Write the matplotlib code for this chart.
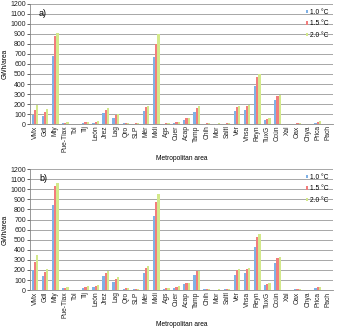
import matplotlib.pyplot as plt
import numpy as np

plt.rcParams['font.family'] = ['Liberation Sans', 'DejaVu Sans']

areas = ["VMx", "Gdl", "Mty", "Pue-Tlax", "Tol", "Tij", "León", "Jrez", "Lag", "Qro",
         "SLP", "Mér", "Mxli", "Ags", "Cuer", "Acap", "Tamp", "Chih", "Mor", "Saltl",
         "Ver", "Vhsa", "Reyn", "TuxG", "Ccún", "Xal", "Oax", "Chya", "Prica", "Pach"]

# panel a)
a_10 = [95, 80, 680, 8, 2, 12, 15, 110, 65, 8, 5, 135, 670, 5, 10, 45, 120, 5, 3, 5,
        133, 143, 377, 40, 237, 2, 5, 2, 15, 3]
a_15 = [145, 125, 875, 12, 3, 18, 22, 145, 90, 12, 8, 170, 800, 8, 18, 60, 160, 8, 5, 8,
        170, 177, 470, 55, 277, 3, 8, 3, 25, 4]
a_20 = [190, 150, 910, 18, 4, 25, 30, 165, 100, 15, 10, 185, 900, 12, 25, 65, 177, 10, 6, 12,
        183, 190, 503, 60, 293, 3, 8, 4, 30, 5]

# panel b)
b_10 = [200, 140, 840, 20, 3, 25, 30, 140, 80, 15, 10, 170, 740, 10, 25, 60, 150, 10, 5, 10,
        150, 175, 430, 50, 270, 2, 8, 3, 25, 3]
b_15 = [275, 178, 1030, 25, 4, 35, 40, 175, 115, 22, 12, 215, 870, 20, 35, 70, 190, 15, 6, 15,
        200, 205, 528, 65, 315, 3, 10, 5, 35, 4]
b_20 = [345, 210, 1065, 35, 5, 45, 50, 190, 130, 25, 15, 235, 950, 25, 40, 70, 195, 15, 8, 15,
        210, 220, 561, 70, 330, 3, 15, 5, 35, 5]

labels = ["1.0 °C", "1.5 °C", "2.0 °C"]
colors = ["#7fb1e6", "#f27d7d", "#d3e98a"]

fig = plt.figure(figsize=(3.37, 3.29), dpi=100)
ax_a = fig.add_axes([0.089, 0.623, 0.899, 0.365])
ax_b = fig.add_axes([0.089, 0.118, 0.899, 0.368])

x = np.arange(len(areas))
w = 0.22

for ax, series, tag in [(ax_a, [a_10, a_15, a_20], "a)"), (ax_b, [b_10, b_15, b_20], "b)")]:
    for i, (vals, lab, c) in enumerate(zip(series, labels, colors)):
        ax.bar(x + (i - 1) * w, vals, w, color=c, label=lab, zorder=3)
    ax.set_ylim(0, 1200)
    ax.set_yticks(range(0, 1201, 100))
    ax.set_xlim(-0.5, len(areas) - 0.5)
    ax.set_xticks(x)
    ax.set_xticklabels(areas, rotation=90)
    ax.tick_params(length=2, width=0.5, pad=1, colors="#222222")
    ax.tick_params(axis="y", labelsize=5)
    ax.tick_params(axis="x", length=0, labelsize=4.8)
    ax.grid(axis="y", color="#999999", linewidth=0.6, zorder=0)
    for s in ["top", "right"]:
        ax.spines[s].set_visible(False)
    for s in ["left", "bottom"]:
        ax.spines[s].set_color("#888888")
        ax.spines[s].set_linewidth(0.6)
    ax.set_ylabel("GWh/area", fontsize=4.8)
    ax.yaxis.set_label_coords(-0.07, 0.5)
    ax.set_xlabel("Metropolitan area", fontsize=4.8)
    ax.xaxis.set_label_coords(0.5, -0.255)
    ax.text(0.03, 0.96, tag, transform=ax.transAxes, fontsize=6.5, va="top")
    ax.legend(loc="upper right", fontsize=4.8, frameon=False, handlelength=0.4,
              handleheight=0.4, handletextpad=0.2, labelspacing=0.7,
              borderaxespad=0.3)

fig.savefig("out.png", dpi=100)
